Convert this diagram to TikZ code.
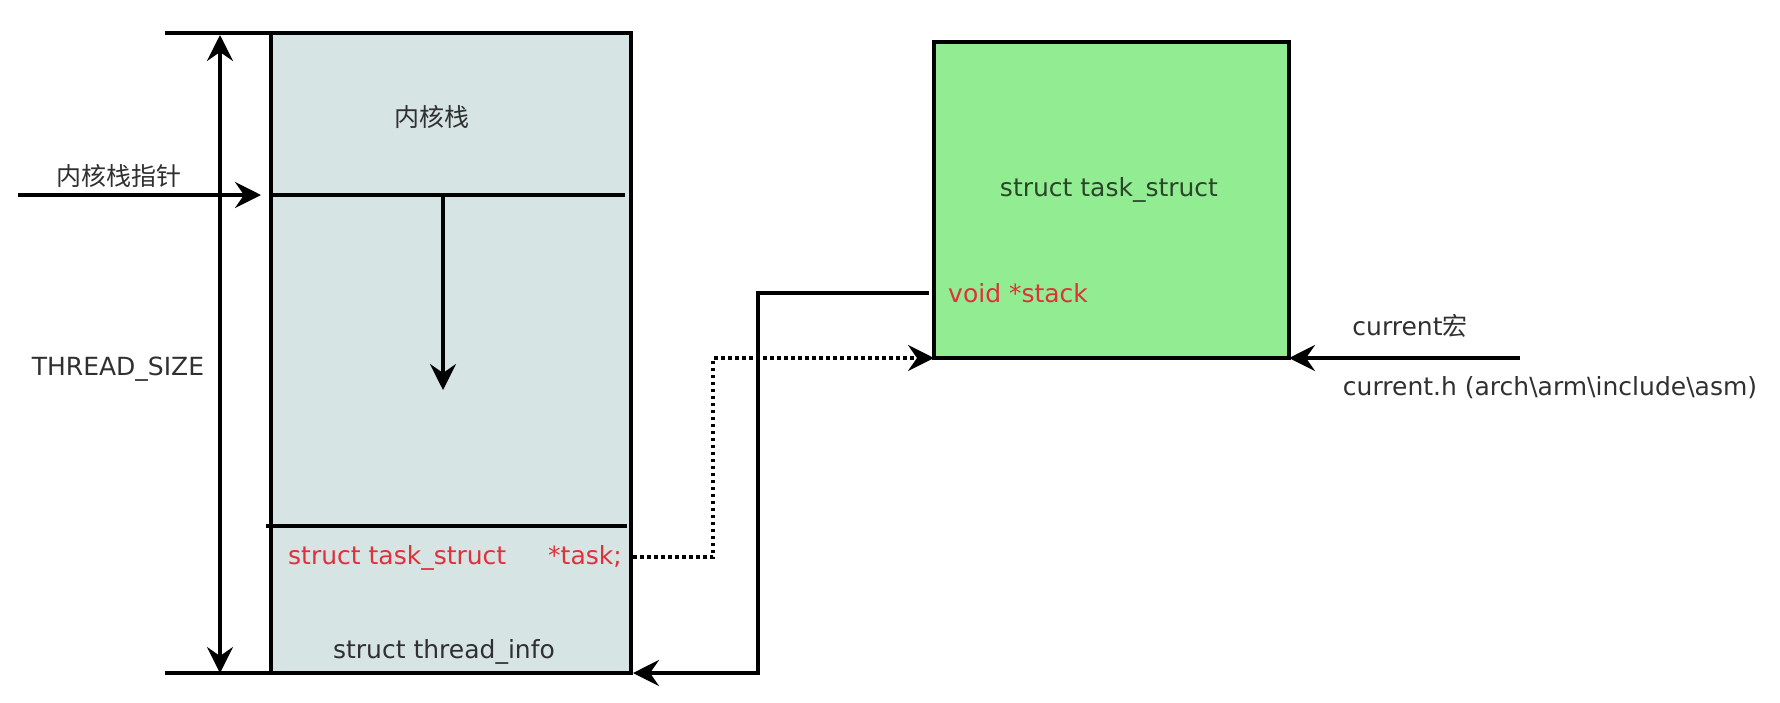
\documentclass[tikz,border=0pt]{standalone}
\usepackage{fontspec}
\setmainfont{DejaVu Sans}
\newfontfamily\cjk{Noto Sans CJK SC}
\usetikzlibrary{arrows.meta}
\definecolor{stackfill}{HTML}{D7E4E4}
\definecolor{taskfill}{HTML}{92EC92}
\definecolor{redtxt}{HTML}{E0303A}
\definecolor{darktxt}{HTML}{303030}
\tikzset{
  line/.style={line width=3.5pt},
  arr/.style={line, -{Stealth[length=26pt,width=26pt,inset=9pt]}},
  dimarr/.style={line, {Stealth[length=26pt,width=26pt,inset=9pt]}-{Stealth[length=26pt,width=26pt,inset=9pt]}},
  dotarr/.style={line width=3.5pt, dash pattern=on 3.5pt off 3.5pt, -{Stealth[length=26pt,width=26pt,inset=9pt]}},
  lbl/.style={inner sep=0pt, text=darktxt, font=\fontsize{25}{30}\selectfont},
  redlbl/.style={lbl, text=redtxt},
  stackbox/.style={draw, line width=3.5pt, fill=stackfill, minimum width=360pt, minimum height=640pt, inner sep=0pt, outer sep=0pt},
  taskbox/.style={draw, line width=3.5pt, fill=taskfill, minimum width=355pt, minimum height=316pt, inner sep=0pt, outer sep=0pt},
}
\begin{document}
\begin{tikzpicture}[x=1pt,y=-1pt]
\useasboundingbox (0,0) rectangle (1780,702);
% boxes
\node[stackbox] (ks) at (451,353) {};
\node[taskbox] (ts) at (1111.5,200) {};
% dimension extension lines
\coordinate (topext) at (165,33);
\coordinate (botext) at (165,673);
\draw[line] (topext) -- (ks.north west);
\draw[line] (botext) -- (ks.south west);
\coordinate (dimtop) at (220,35);
\coordinate (dimbot) at (220,673);
\draw[dimarr] (dimtop) -- (dimbot);
% stack pointer
\coordinate (spin) at (18,195);
\coordinate (spl) at (271,195);
\coordinate (spr) at (625,195);
\draw[arr] (spin) -- ([xshift=-10pt]spl);
\draw[line] (spl) -- (spr);
\coordinate (grow) at (443,195);
\coordinate (growend) at (443,390);
\draw[arr] (grow) -- (growend);
% thread_info separator
\coordinate (til) at (266,526);
\coordinate (tir) at (627,526);
\draw[line] (til) -- (tir);
% labels
\node[lbl] (lks) at (432,117) {\cjk 内核栈};
\node[lbl] (lsp) at (119,176) {\cjk 内核栈指针};
\node[lbl] (lts) at (118,369) {THREAD\_SIZE};
\node[redlbl, anchor=west] (ltask) at (288,558) {struct task\_struct\hspace{34pt} *task;};
\node[lbl] (lti) at (444,652) {struct thread\_info};
\node[lbl, text=darktxt!90!green] (ltsn) at (1109,190) {struct task\_struct};
\node[redlbl, anchor=west] (lstack) at (948,293) {void *stack};
\node[lbl] (lcur) at (1410,326) {current{\cjk 宏}};
\node[lbl] (lcurh) at (1550,388) {current.h (arch\textbackslash arm\textbackslash include\textbackslash asm)};
% stack pointer link: task_struct -> thread_info
\coordinate (stk) at (929,293);
\coordinate (tib) at (ks.south east);
\draw[arr] (stk) -- (758,293) -- (758,673) -- ([xshift=2pt]tib);
% task pointer: thread_info -> task_struct
\coordinate (taskp) at (633,557);
\draw[dotarr] (taskp) -- (713,557) -- (713,358) -- (ts.south west);
% current macro
\coordinate (curin) at (1520,358);
\draw[arr] (curin) -- (ts.south east);
\end{tikzpicture}
\end{document}
